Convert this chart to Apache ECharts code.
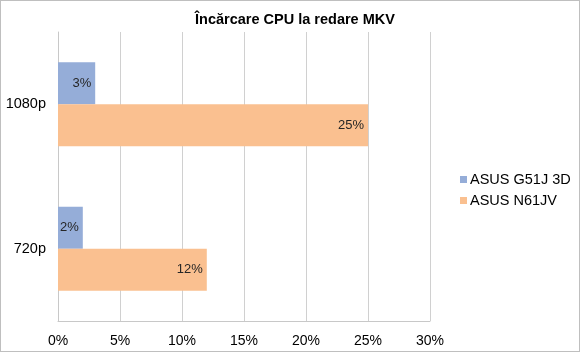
<!DOCTYPE html>
<html><head><meta charset="utf-8">
<script src="https://cdn.jsdelivr.net/npm/echarts@6/dist/echarts.min.js"></script>
<style>html,body{margin:0;padding:0;background:#fff}#c{width:580px;height:352px;box-sizing:border-box;border:1px solid #BFBFBF}</style>
</head><body><div id="c"></div>
<script>
const categories = ['720p', '1080p'];
const seriesNames = ['ASUS G51J 3D', 'ASUS N61JV'];
const g51jValues = [2, 3];
const n61jvValues = [12, 25];
const xTicks = [0, 5, 10, 15, 20, 25, 30];
const colors = ['#95ADD8', '#FAC090'];

const chart = echarts.init(document.getElementById('c'), null, {renderer: 'canvas'});
const font = 'Liberation Sans, Arial, sans-serif';
const label = {show: true, position: 'insideRight', formatter: p => p.value + '%', color: '#262626', fontSize: 13, fontFamily: font, distance: 4};
chart.setOption({
  animation: false,
  title: {text: 'Încărcare CPU la redare MKV', left: 289, top: 6, textAlign: 'center',
    textStyle: {fontFamily: font, fontSize: 14.5, fontWeight: 'bold', color: '#000'}},
  legend: {orient: 'vertical', left: 454, top: 166, itemWidth: 7, itemHeight: 7, itemGap: 6,
    icon: 'rect', data: seriesNames,
    textStyle: {fontFamily: font, fontSize: 14.5, color: '#000', padding: [0, 0, 0, -2]}},
  grid: {left: 57, right: 149, top: 31, bottom: 30, containLabel: false},
  xAxis: {type: 'value', min: xTicks[0], max: xTicks[xTicks.length - 1], interval: 5,
    axisLabel: {formatter: v => v + '%', fontFamily: font, fontSize: 14, color: '#000', margin: 13},
    splitLine: {lineStyle: {color: '#D0D0D0'}},
    axisLine: {show: true, lineStyle: {color: '#C8C8C8'}}, axisTick: {show: false}},
  yAxis: {type: 'category', data: categories,
    axisLabel: {fontFamily: font, fontSize: 14.5, color: '#000', margin: 12},
    axisLine: {show: true, lineStyle: {color: '#C8C8C8'}}, axisTick: {show: false}},
  series: [
    {name: seriesNames[0], type: 'bar', data: g51jValues, itemStyle: {color: colors[0]},
      barGap: '0%', barCategoryGap: '42%', label: label},
    {name: seriesNames[1], type: 'bar', data: n61jvValues, itemStyle: {color: colors[1]},
      barGap: '0%', barCategoryGap: '42%', label: label}
  ]
});
</script></body></html>
